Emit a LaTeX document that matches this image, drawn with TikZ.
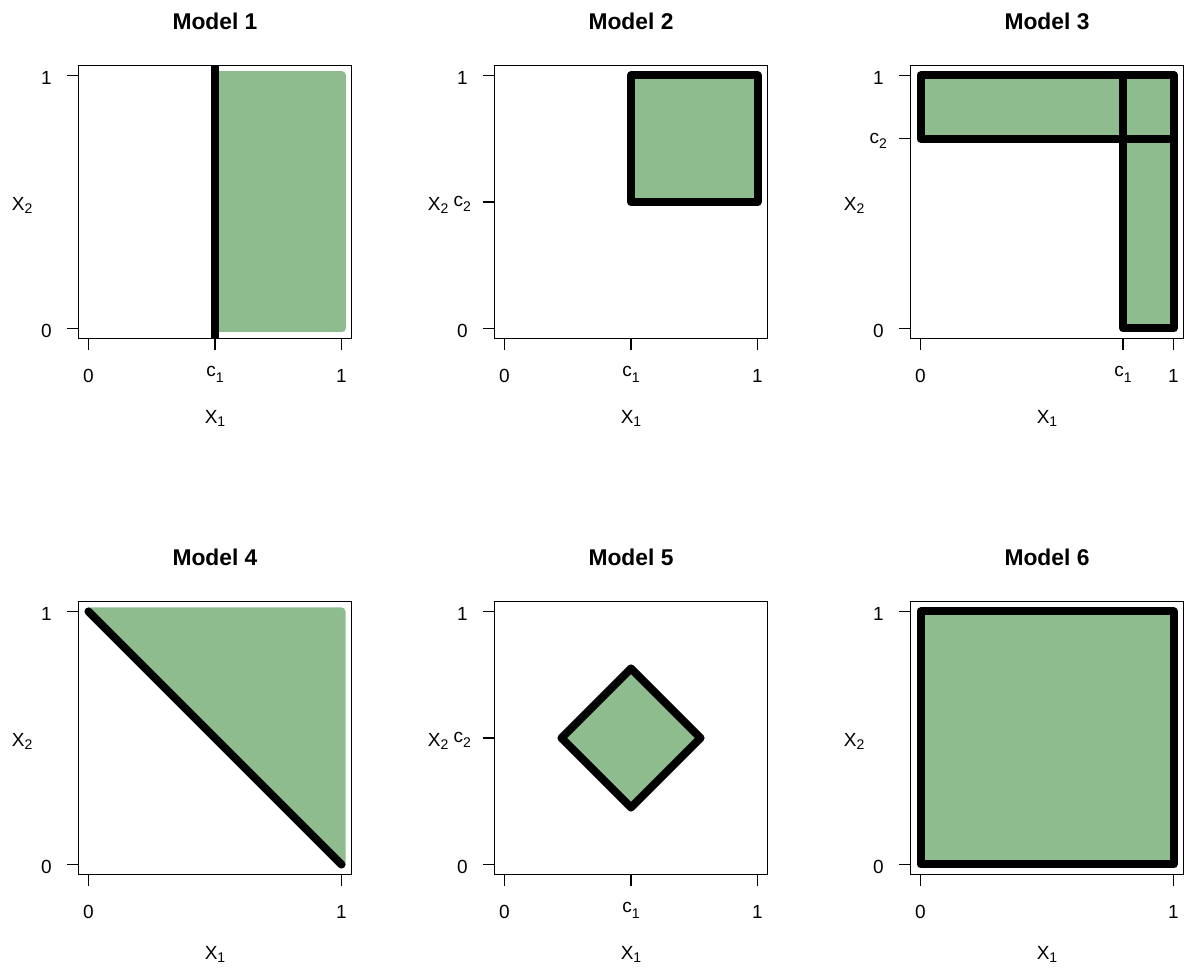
\documentclass[tikz,border=0pt]{standalone}
\usepackage{fontspec}
\setmainfont{Liberation Sans}
\definecolor{dsg}{RGB}{143,188,143}
\tikzset{
  frame/.style={draw=black, line width=1.3pt},
  tickline/.style={draw=black, line width=1.3pt},
  ticklab/.style={inner sep=0pt, font=\fontsize{19}{19}\selectfont},
  plottitle/.style={inner sep=0pt, anchor=base, font=\fontsize{22.8}{23}\selectfont\bfseries},
  region/.style={fill=dsg, draw=black, line width=8pt, line join=round},
  greenregion/.style={fill=dsg, draw=dsg, line width=8pt, line join=round},
  boundline/.style={draw=black, line width=8pt},
}
\newcommand{\subx}[1]{\raisebox{-3pt}{\fontsize{14}{14}\selectfont #1}}
\newcommand{\subc}[1]{\raisebox{-5.5pt}{\fontsize{14}{14}\selectfont #1}}
% frame, title, axis labels
\newcommand{\plotbox}[2]{%
  \draw[frame] (-0.04,-0.04) rectangle (1.04,1.04);
  \node[plottitle] (#1title) at (0.5,1.1826) {#2};
  \node[ticklab, anchor=base] (#1xlab) at (0.5,-0.3747) {X\subx{1}};
  \node[ticklab, anchor=base west] (#1ylab) at (-0.3036,0.465) {X\subx{2}};
}
% x tick with a digit label
\newcommand{\xtickd}[3]{%
  \draw[tickline] (#2,-0.04) -- (#2,-0.084);
  \node[ticklab, anchor=base] (#1) at (#2,-0.2142) {#3};
}
% x tick with c1 label
\newcommand{\xtickc}[2]{%
  \draw[tickline] (#2,-0.04) -- (#2,-0.084);
  \node[ticklab, anchor=base] (#1) at (#2,-0.1905) {c\subc{1}};
}
% y tick with a digit label
\newcommand{\ytickd}[3]{%
  \draw[tickline] (-0.04,#2) -- (-0.084,#2);
  \node[ticklab, anchor=base east] (#1) at (-0.1443,#2-0.0375) {#3};
}
% y tick with c2 label
\newcommand{\ytickc}[2]{%
  \draw[tickline] (-0.04,#2) -- (-0.084,#2);
  \node[ticklab, anchor=base east] (#1) at (-0.1324,#2-0.0178) {c\subc{2}};
}
\begin{document}
\begin{tikzpicture}[x=1pt,y=1pt]
\useasboundingbox[fill=white] (0,0) rectangle (1184,971);

% ---------- Model 1 ----------
\begin{scope}[shift={(88.5pt,642.5pt)}, x=253pt, y=253pt]
  \filldraw[greenregion] (0.5,0) -- (1,0) -- (1,1) -- (0.5,1) -- cycle;
  \draw[boundline] (0.5,-0.04) -- (0.5,1.04);
  \plotbox{a}{Model 1}
  \xtickd{ax0}{0}{0}
  \xtickc{axc}{0.5}
  \xtickd{ax1}{1}{1}
  \ytickd{ay0}{0}{0}
  \ytickd{ay1}{1}{1}
\end{scope}

% ---------- Model 2 ----------
\begin{scope}[shift={(504.5pt,642.5pt)}, x=253pt, y=253pt]
  \filldraw[region] (0.5,0.5) rectangle (1,1);
  \plotbox{b}{Model 2}
  \xtickd{bx0}{0}{0}
  \xtickc{bxc}{0.5}
  \xtickd{bx1}{1}{1}
  \ytickd{by0}{0}{0}
  \ytickc{byc}{0.5}
  \ytickd{by1}{1}{1}
\end{scope}

% ---------- Model 3 ----------
\begin{scope}[shift={(920.5pt,642.5pt)}, x=253pt, y=253pt]
  \fill[dsg] (0,0.75) rectangle (1,1);
  \fill[dsg] (0.8,0) rectangle (1,1);
  \draw[region, fill=none] (0,0.75) rectangle (1,1);
  \draw[region, fill=none] (0.8,0) rectangle (1,1);
  \plotbox{c}{Model 3}
  \xtickd{cx0}{0}{0}
  \xtickc{cxc}{0.8}
  \xtickd{cx1}{1}{1}
  \ytickd{cy0}{0}{0}
  \ytickc{cyc}{0.75}
  \ytickd{cy1}{1}{1}
\end{scope}

% ---------- Model 4 ----------
\begin{scope}[shift={(88.5pt,106.5pt)}, x=253pt, y=253pt]
  \filldraw[greenregion] (0,1) -- (1,1) -- (1,0) -- cycle;
  \draw[boundline, line cap=round] (0,1) -- (1,0);
  \plotbox{d}{Model 4}
  \xtickd{dx0}{0}{0}
  \xtickd{dx1}{1}{1}
  \ytickd{dy0}{0}{0}
  \ytickd{dy1}{1}{1}
\end{scope}

% ---------- Model 5 ----------
\begin{scope}[shift={(504.5pt,106.5pt)}, x=253pt, y=253pt]
  \filldraw[region] (0.225,0.5) -- (0.5,0.775) -- (0.775,0.5) -- (0.5,0.225) -- cycle;
  \plotbox{e}{Model 5}
  \xtickd{ex0}{0}{0}
  \xtickc{exc}{0.5}
  \xtickd{ex1}{1}{1}
  \ytickd{ey0}{0}{0}
  \ytickc{eyc}{0.5}
  \ytickd{ey1}{1}{1}
\end{scope}

% ---------- Model 6 ----------
\begin{scope}[shift={(920.5pt,106.5pt)}, x=253pt, y=253pt]
  \filldraw[region] (0,0) rectangle (1,1);
  \plotbox{f}{Model 6}
  \xtickd{fx0}{0}{0}
  \xtickd{fx1}{1}{1}
  \ytickd{fy0}{0}{0}
  \ytickd{fy1}{1}{1}
\end{scope}
\end{tikzpicture}
\end{document}
